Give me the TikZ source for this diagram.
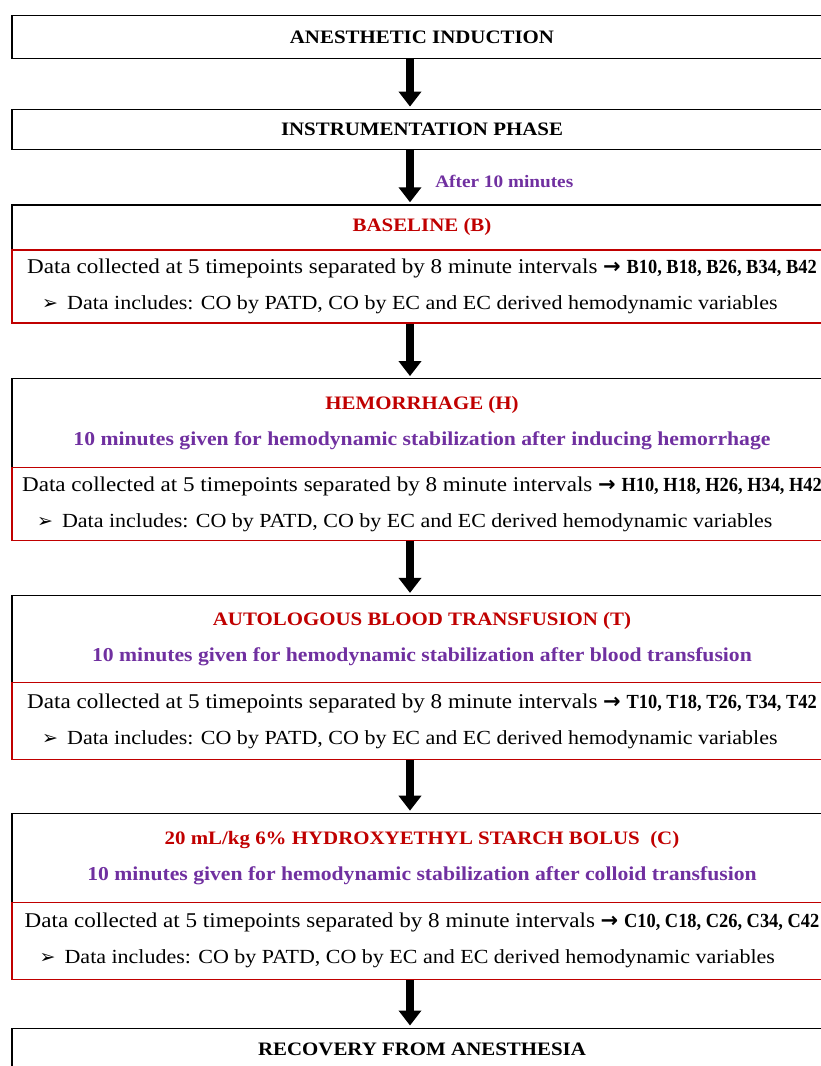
\documentclass[tikz,border=0pt]{standalone}
\usepackage{fontspec}
\setmainfont{Liberation Serif}[FakeStretch=1.1]
\newfontfamily\bulletfont{DejaVu Sans}
\newfontfamily\pointfont{Liberation Serif}[FakeStretch=0.92]
\usepackage{tikz}
\usetikzlibrary{arrows.meta,positioning}

\definecolor{phasered}{HTML}{C00000}
\definecolor{notepurple}{HTML}{7030A0}

\newcommand{\timeline}[1]{Data collected at 5 timepoints separated by 8 minute intervals {\bulletfont\bfseries\fontsize{21}{36}\selectfont →} {\pointfont\bfseries\fontsize{20}{36}\selectfont #1}}
\newcommand{\datanote}{\hspace*{15pt}{\bulletfont\fontsize{19}{36}\selectfont ➢}\hspace{9pt}{\fontsize{20}{36}\selectfont Data includes: CO by PATD, CO by EC and EC derived hemodynamic variables}}
\newcommand{\stabnote}[1]{\textcolor{notepurple}{\fontsize{19.7}{36}\selectfont 10 minutes given for hemodynamic stabilization after #1}}

\begin{document}
\begin{tikzpicture}[
  x=1pt, y=-1pt,
  phasebox/.style={draw=black, line width=1.2pt, minimum width=820pt, inner xsep=2pt, align=center, font=\bfseries\fontsize{19}{36}\selectfont},
  databox/.style={draw=phasered, line width=1.5pt, minimum width=820pt, inner xsep=2pt, align=left, font=\fontsize{21}{36}\selectfont},
  arr/.style={line width=8pt, -{Triangle[width=22pt,length=15pt]}, shorten >=2pt}
]
\useasboundingbox (0,0) rectangle (820,1066);

\node[phasebox, minimum height=43pt] (induct) at (422,37) {ANESTHETIC INDUCTION};
\node[phasebox, minimum height=40pt, below=49.5pt of induct] (instr) {INSTRUMENTATION PHASE};
\node[phasebox, minimum height=45pt, below=54.5pt of instr, text=phasered] (base) {BASELINE (B)};
\node[databox, minimum height=73pt, below=-1.4pt of base] (bdata) {\timeline{B10, B18, B26, B34, B42}\\\datanote};

\node[phasebox, minimum height=89pt, below=54.5pt of bdata] (hem) {\textcolor{phasered}{HEMORRHAGE (H)}\\\stabnote{inducing hemorrhage}};
\node[databox, minimum height=73pt, below=-1.4pt of hem] (hdata) {\timeline{H10, H18, H26, H34, H42}\\\datanote};

\node[phasebox, minimum height=87pt, below=53.5pt of hdata] (trans) {\textcolor{phasered}{AUTOLOGOUS BLOOD TRANSFUSION (T)}\\\stabnote{blood transfusion}};
\node[databox, minimum height=77pt, below=-1.4pt of trans] (tdata) {\timeline{T10, T18, T26, T34, T42}\\\datanote};

\node[phasebox, minimum height=89pt, below=52.5pt of tdata] (starch) {\textcolor{phasered}{20 mL/kg 6\% HYDROXYETHYL STARCH BOLUS\ \ (C)}\\\stabnote{colloid transfusion}};
\node[databox, minimum height=77pt, below=-1.4pt of starch] (cdata) {\timeline{C10, C18, C26, C34, C42}\\\datanote};

\node[phasebox, minimum height=43pt, below=47.5pt of cdata] (recov) {RECOVERY FROM ANESTHESIA};

\draw[arr] ([xshift=-12pt]induct.south) -- ([xshift=-12pt]instr.north);
\draw[arr] ([xshift=-12pt]instr.south) -- node[pos=0.58, anchor=west, xshift=18pt, text=notepurple, font=\bfseries\fontsize{17.5}{20}\selectfont] (after) {After 10 minutes} ([xshift=-12pt]base.north);
\draw[arr] ([xshift=-12pt]bdata.south) -- ([xshift=-12pt]hem.north);
\draw[arr] ([xshift=-12pt]hdata.south) -- ([xshift=-12pt]trans.north);
\draw[arr] ([xshift=-12pt]tdata.south) -- ([xshift=-12pt]starch.north);
\draw[arr] ([xshift=-12pt]cdata.south) -- ([xshift=-12pt]recov.north);
\end{tikzpicture}
\end{document}
